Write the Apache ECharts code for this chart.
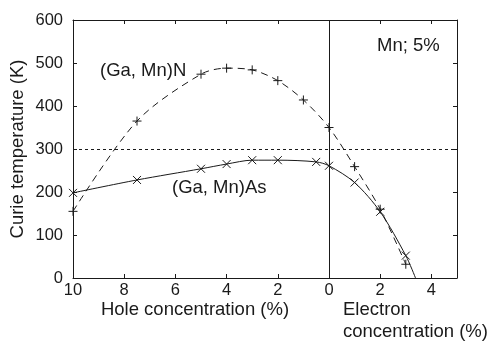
<!DOCTYPE html>
<html><head><meta charset="utf-8">
<script src="https://cdn.jsdelivr.net/npm/echarts@6/dist/echarts.min.js"></script>
<style>html,body{margin:0;padding:0;background:#fff}#c{width:492px;height:341px}</style>
</head><body><div id="c"></div>
<script>
// Concentration (%): negative = hole, positive = electron
var ganX = [-10, -7.5, -5, -4, -3, -2, -1, 0, 1, 2, 3];
var ganY = [155, 365, 474, 488, 484, 459, 414, 350, 259, 160, 32];
var gaasX = [-10, -7.5, -5, -4, -3, -2, -0.5, 0, 1, 2, 3, 3.38];
var gaasY = [198, 228, 254, 265, 274, 274, 270, 261, 222, 154, 52, 0];
var gaasMarked = [true, true, true, true, true, true, true, true, true, true, true, false];
var xTicks = [-10, -8, -6, -4, -2, 0, 2, 4];
var yTicks = [0, 100, 200, 300, 400, 500, 600];
var refTemp = 300;

var font = 'Liberation Sans, Arial, Helvetica, sans-serif';
var ink = '#1a1a1a';
var plusPath = 'path://M5,0L5,10M0,5L10,5';
var crossPath = 'path://M0,0L10,10M10,0L0,10';

function pts(xs, ys, marks) {
  return xs.map(function (x, i) {
    var p = { value: [x, ys[i]] };
    if (marks && !marks[i]) p.symbol = 'none';
    return p;
  });
}

var chart = echarts.init(document.getElementById('c'), null, { renderer: 'canvas' });
var xCommon = {
  type: 'value', min: xTicks[0], max: 5, interval: 2,
  splitLine: { show: false },
  axisLine: { show: true, onZero: false, lineStyle: { color: ink, width: 1 } },
  axisTick: { show: true, inside: true, length: 4, lineStyle: { color: ink } }
};
var yCommon = {
  type: 'value', min: yTicks[0], max: yTicks[yTicks.length - 1], interval: 100,
  splitLine: { show: false },
  axisLine: { show: true, onZero: false, lineStyle: { color: ink, width: 1 } },
  axisTick: { show: true, inside: true, length: 4, lineStyle: { color: ink } }
};
chart.setOption({
  animation: false,
  grid: { left: 73, right: 35, top: 20, bottom: 63, containLabel: false },
  xAxis: [
    Object.assign({}, xCommon, {
      position: 'bottom',
      axisLabel: {
        show: true, margin: 4, color: ink, fontSize: 16.5, fontFamily: font,
        formatter: function (v) { return xTicks.indexOf(v) >= 0 ? String(Math.abs(v)) : ''; }
      }
    }),
    Object.assign({}, xCommon, { position: 'top', axisLabel: { show: false } })
  ],
  yAxis: [
    Object.assign({}, yCommon, {
      position: 'left',
      axisLabel: { show: true, margin: 10, color: ink, fontSize: 16.5, fontFamily: font }
    }),
    Object.assign({}, yCommon, { position: 'right', axisLabel: { show: false } })
  ],
  series: [
    {
      name: '(Ga, Mn)N', type: 'line', data: pts(ganX, ganY),
      smooth: 0.3, symbol: plusPath, symbolSize: 9,
      lineStyle: { color: ink, width: 1, type: [7, 5] },
      itemStyle: { color: 'rgba(0,0,0,0)', borderColor: ink, borderWidth: 1 },
      markLine: {
        silent: true, symbol: ['none', 'none'], label: { show: false },
        data: [
          { xAxis: 0, lineStyle: { color: ink, width: 1, type: 'solid' } },
          { yAxis: refTemp, lineStyle: { color: ink, width: 1, type: [3, 3] } }
        ]
      }
    },
    {
      name: '(Ga, Mn)As', type: 'line', data: pts(gaasX, gaasY, gaasMarked),
      smooth: 0.3, symbol: crossPath, symbolSize: 8,
      lineStyle: { color: ink, width: 1, type: 'solid' },
      itemStyle: { color: 'rgba(0,0,0,0)', borderColor: ink, borderWidth: 1 }
    }
  ],
  graphic: [
    { type: 'text', x: 18, y: 149, rotation: Math.PI / 2,
      style: { text: 'Curie temperature (K)', font: '18.5px ' + font, fill: ink, align: 'center', verticalAlign: 'middle', textAlign: 'center', textVerticalAlign: 'middle' } },
    { type: 'text', x: 195, y: 310,
      style: { text: 'Hole concentration (%)', font: '18.5px ' + font, fill: ink, align: 'center', verticalAlign: 'middle', textAlign: 'center', textVerticalAlign: 'middle' } },
    { type: 'text', x: 343, y: 310,
      style: { text: 'Electron', font: '18.5px ' + font, fill: ink, align: 'left', verticalAlign: 'middle', textAlign: 'left', textVerticalAlign: 'middle' } },
    { type: 'text', x: 343, y: 332,
      style: { text: 'concentration (%)', font: '18.5px ' + font, fill: ink, align: 'left', verticalAlign: 'middle', textAlign: 'left', textVerticalAlign: 'middle' } },
    { type: 'text', x: 100, y: 71,
      style: { text: '(Ga, Mn)N', font: '18.5px ' + font, fill: ink, align: 'left', verticalAlign: 'middle', textAlign: 'left', textVerticalAlign: 'middle' } },
    { type: 'text', x: 172, y: 188,
      style: { text: '(Ga, Mn)As', font: '18.5px ' + font, fill: ink, align: 'left', verticalAlign: 'middle', textAlign: 'left', textVerticalAlign: 'middle' } },
    { type: 'text', x: 377, y: 46,
      style: { text: 'Mn; 5%', font: '18.5px ' + font, fill: ink, align: 'left', verticalAlign: 'middle', textAlign: 'left', textVerticalAlign: 'middle' } }
  ]
});
</script></body></html>
